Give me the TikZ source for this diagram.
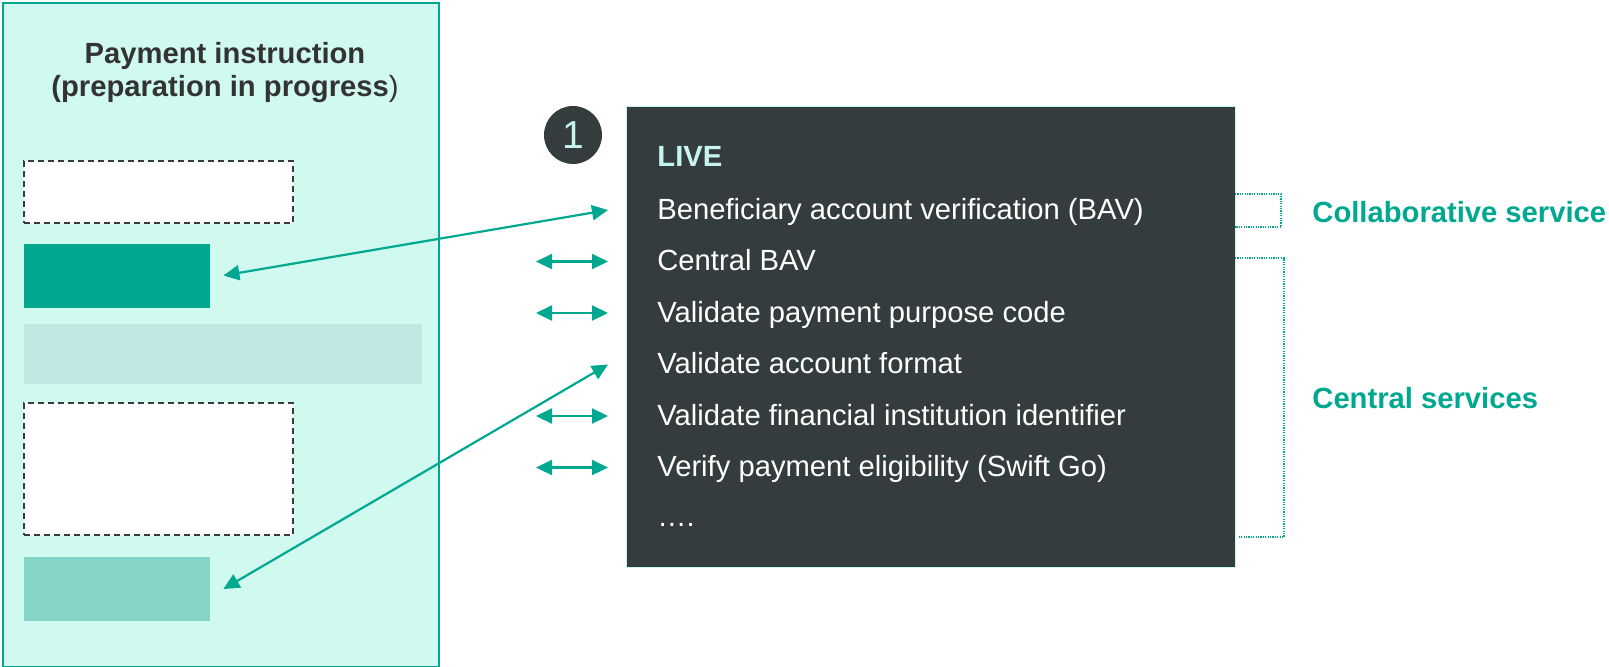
\documentclass[tikz,border=0pt]{standalone}
\usepackage{fontspec}
\setmainfont{Liberation Sans}
\usepackage{xcolor}
\usepackage{tikz}
\usetikzlibrary{arrows.meta,positioning,calc}
\definecolor{teal}{HTML}{00A88F}
\definecolor{mint}{HTML}{D0F9EF}
\definecolor{palebar}{HTML}{C0E8E2}
\definecolor{midteal}{HTML}{84D5C7}
\definecolor{slate}{HTML}{353C3E}
\definecolor{ice}{HTML}{C6F4F1}
\definecolor{ink}{HTML}{333333}
\definecolor{dashgrey}{HTML}{3A3A3A}
\newcommand\itemfont{\fontsize{14.6pt}{16.5pt}\selectfont}
\tikzset{
  panelbox/.style={draw=teal, fill=mint, line width=0.8pt, minimum width=218pt,
    minimum height=332pt, inner sep=0pt},
  slotbox/.style={draw=dashgrey, fill=white, dash pattern=on 3pt off 2pt,
    line width=0.6pt, minimum width=134.5pt, inner sep=0pt},
  fieldbox/.style={draw=none, minimum width=93pt, minimum height=32pt, inner sep=0pt},
  livebox/.style={draw=ice, fill=slate, line width=0.5pt, minimum width=304.5pt,
    minimum height=230.5pt, inner sep=0pt},
  numdot/.style={circle, fill=slate, minimum size=29pt, inner sep=0pt, text=ice,
    font=\fontsize{19.5pt}{20pt}\selectfont},
  titletext/.style={align=center, inner sep=0pt, text=ink, font=\itemfont\bfseries},
  livehead/.style={anchor=base west, inner sep=0pt, text=ice, font=\itemfont\bfseries},
  svcitem/.style={anchor=base west, inner sep=0pt, text=white, font=\itemfont,
    text height=10.5pt, text depth=1.5pt},
  grouplabel/.style={anchor=base west, inner sep=0pt, text=teal, font=\itemfont\bfseries},
  biflow/.style={<->, >={Triangle[length=8pt,width=7.5pt]}, draw=teal, line width=1.1pt},
  bracket/.style={draw=teal, line width=0.6pt, dash pattern=on 0.6pt off 0.6pt},
}

\begin{document}
\begin{tikzpicture}[x=0.5pt, y=-0.5pt]
  \useasboundingbox (0,0) rectangle (1609,666);
  % payment instruction
  \node[panelbox] (instr) at (221,335) {};
  \node[titletext] (title) at (225,73) {Payment instruction\\(preparation in progress\textmd{)}};
  \node[slotbox, minimum height=31pt] (slota) at (158.5,192) {};
  \node[fieldbox, fill=teal] (bavfield) at (117,275.5) {};
  \node[fieldbox, fill=palebar, minimum width=199pt, minimum height=30pt] (midbar) at (223,354) {};
  \node[slotbox, minimum height=66pt] (slotb) at (158.5,469) {};
  \node[fieldbox, fill=midteal] (fmtfield) at (117,589) {};

  % live services
  \node[livebox] (live) at (930.5,336.5) {};
  \node[numdot] (one) at (573,135) {1};
  \node[livehead] (head) at (657,166) {LIVE};
  \node[svcitem] (bav) at (657,219) {Beneficiary account verification (BAV)};
  \node[svcitem] (cbav) at (657,270.5) {Central BAV};
  \node[svcitem] (purpose) at (657,322) {Validate payment purpose code};
  \node[svcitem] (format) at (657,373.5) {Validate account format};
  \node[svcitem] (fiid) at (657,425) {Validate financial institution identifier};
  \node[svcitem] (swiftgo) at (657,476.5) {Verify payment eligibility (Swift Go)};
  \node[svcitem] (more) at (657,526) {….};

  % connectors
  \draw[biflow] ([xshift=-24.5pt]bav.west) -- ([xshift=6.5pt]bavfield.east);
  \draw[biflow] ([xshift=-24.5pt]format.west) -- ([xshift=6.5pt]fmtfield.east);
  \draw[biflow] ([xshift=-60.5pt]cbav.west) -- ([xshift=-24.5pt]cbav.west);
  \draw[biflow] ([xshift=-60.5pt]purpose.west) -- ([xshift=-24.5pt]purpose.west);
  \draw[biflow] ([xshift=-60.5pt]fiid.west) -- ([xshift=-24.5pt]fiid.west);
  \draw[biflow] ([xshift=-60.5pt]swiftgo.west) -- ([xshift=-24.5pt]swiftgo.west);

  % groups
  \draw[bracket] (1235,194) -| (1281,227) -- (1235,227);
  \draw[bracket] (1235,258) -| (1284,537) -- (1239,537);
  \node[grouplabel] (collab) at (1312,222) {Collaborative service};
  \node[grouplabel] (central) at (1312,408) {Central services};
\end{tikzpicture}
\end{document}
